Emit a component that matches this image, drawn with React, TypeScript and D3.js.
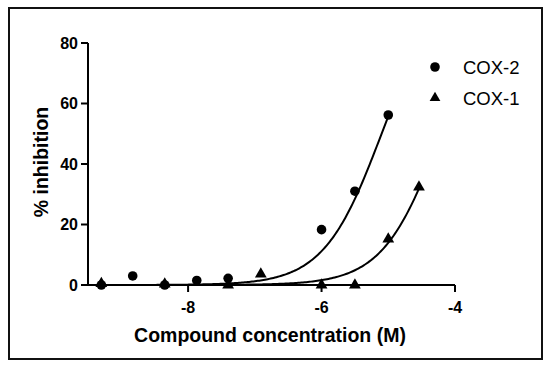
import React from "react";
import * as d3 from "d3";

// log concentration (M) / % inhibition
const cox2X = [-9.3, -8.83, -8.35, -7.87, -7.4, -6.0, -5.5, -5.0];
const cox2Y = [0, 3, 0, 1.5, 2.2, 18.3, 31, 56.2];
const cox1X = [-9.3, -8.35, -7.4, -6.91, -6.0, -5.5, -5.0, -4.54];
const cox1Y = [0.5, 0.3, 0, 3.6, 0, 0, 15.2, 32.4];

// fitted dose-response curves (bottom 0, top 100, hill 1)
const cox2LogIC50 = -5.1;
const cox1LogIC50 = -4.21;
const hill = 1;

const xTicks = [-8, -6, -4];
const yTicks = [0, 20, 40, 60, 80];
const seriesNames = ["COX-2", "COX-1"];

const font = "Arial, 'Liberation Sans', Helvetica, sans-serif";

const App = () => {
  const x = d3.scaleLinear().domain([-9.5, -4]).range([88, 455]);
  const y = d3.scaleLinear().domain([0, 80]).range([285, 43]);

  const fit = (logIC50: number) => (v: number) => 100 / (1 + Math.pow(10, (logIC50 - v) * hill));

  const curve = (logIC50: number, xs: number[]) => {
    const f = fit(logIC50);
    const lo = d3.min(xs)!;
    const hi = d3.max(xs)!;
    const pts = d3.range(0, 201).map((i) => lo + ((hi - lo) * i) / 200);
    return d3
      .line<number>()
      .x((v) => x(v))
      .y((v) => y(f(v)))(pts)!;
  };

  const tri = d3.symbol(d3.symbolTriangle, 60)()!;
  const triLegend = d3.symbol(d3.symbolTriangle, 50)()!;

  return (
    <svg width={550} height={368} style={{ position: "absolute", left: 0, top: 0 }} fontFamily={font}>
      <rect x={0} y={0} width={550} height={368} fill="#fff" />
      <rect x={9} y={8} width={533} height={351} fill="none" stroke="#111" strokeWidth={2} />

      {/* curves */}
      <path d={curve(cox2LogIC50, cox2X)} fill="none" stroke="#000" strokeWidth={2} />
      <path d={curve(cox1LogIC50, cox1X)} fill="none" stroke="#000" strokeWidth={2} />

      {/* axes */}
      <line x1={x(-9.5)} x2={x(-4)} y1={y(0)} y2={y(0)} stroke="#000" strokeWidth={2} />
      <line x1={x(-9.5)} x2={x(-9.5)} y1={y(0)} y2={y(80)} stroke="#000" strokeWidth={2} />
      {yTicks.map((t) => (
        <g key={t}>
          <line x1={x(-9.5) - 7} x2={x(-9.5)} y1={y(t)} y2={y(t)} stroke="#000" strokeWidth={2} />
          <text x={78} y={y(t)} dy="0.36em" textAnchor="end" fontSize={16} fontWeight="bold">
            {t}
          </text>
        </g>
      ))}
      {xTicks.map((t) => (
        <g key={t}>
          <line x1={x(t)} x2={x(t)} y1={y(0)} y2={y(0) + 7} stroke="#000" strokeWidth={2} />
          <text x={x(t)} y={313} textAnchor="middle" fontSize={16} fontWeight="bold">
            {t}
          </text>
        </g>
      ))}
      <text x={270} y={342} textAnchor="middle" fontSize={19.5} fontWeight="bold">
        Compound concentration (M)
      </text>
      <text
        transform="translate(48,162) rotate(-90)"
        textAnchor="middle"
        fontSize={19.5}
        fontWeight="bold"
      >
        % inhibition
      </text>

      {/* points */}
      {cox2X.map((v, i) => (
        <circle key={"c" + i} cx={x(v)} cy={y(cox2Y[i])} r={4.8} fill="#000" />
      ))}
      {cox1X.map((v, i) => (
        <path key={"t" + i} d={tri} transform={`translate(${x(v)},${y(cox1Y[i])})`} fill="#000" />
      ))}

      {/* legend */}
      <circle cx={435} cy={67} r={4.8} fill="#000" />
      <path d={triLegend} transform="translate(435,98)" fill="#000" />
      <text x={463} y={73.5} fontSize={18.5}>
        {seriesNames[0]}
      </text>
      <text x={463} y={104.5} fontSize={18.5}>
        {seriesNames[1]}
      </text>
    </svg>
  );
};

export default App;
